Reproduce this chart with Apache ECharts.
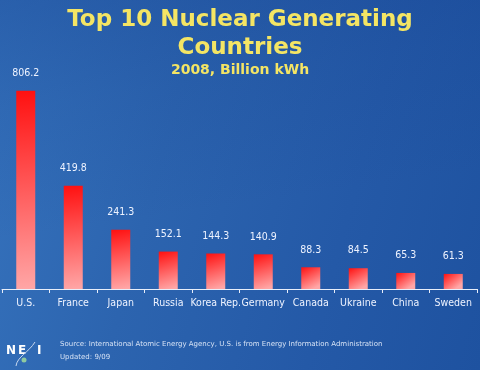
<!DOCTYPE html>
<html><head><meta charset="utf-8">
<script src="https://cdn.jsdelivr.net/npm/echarts@6/dist/echarts.min.js"></script>
<style>
html,body{margin:0;padding:0;}
#c{width:480px;height:370px;background:
 linear-gradient(172deg, rgba(18,60,140,0.35) 0%, rgba(18,60,140,0.15) 25%, rgba(18,60,140,0) 55%),
 linear-gradient(105deg, #3673bd 0%, #2c64af 35%, #2459a7 70%, #1e52a0 100%);}
</style></head>
<body><div id="c"></div>
<script>
var categories = ['U.S.','France','Japan','Russia','Korea Rep.','Germany','Canada','Ukraine','China','Sweden'];
var values = [806.2,419.8,241.3,152.1,144.3,140.9,88.3,84.5,65.3,61.3];
var titleLines = ['Top 10 Nuclear Generating','Countries'];
var subtitle = '2008, Billion kWh';
var sourceText = 'Source: International Atomic Energy Agency, U.S. is from Energy Information Administration';
var updatedText = 'Updated: 9/09';

var narrow = '"DejaVu Sans Condensed", "Liberation Sans Narrow", "Liberation Sans", sans-serif';
var chart = echarts.init(document.getElementById('c'), null, {renderer:'canvas'});
chart.setOption({
  backgroundColor: 'transparent',
  animation: false,
  title: [{
    text: titleLines.join('\n'),
    left: 'center', top: 1,
    textStyle: {color:'#f4e564', fontFamily:'DejaVu Sans', fontWeight:'bold', fontSize:23, lineHeight:28}
  },{
    text: subtitle,
    left: 'center', top: 58,
    textStyle: {color:'#f4e564', fontFamily:'DejaVu Sans', fontWeight:'bold', fontSize:14}
  }],
  grid: {left:2, right:3, top:43, bottom:81},
  xAxis: {
    type:'category', data: categories,
    axisLine: {lineStyle:{color:'#e8eefa', width:1}},
    axisTick: {show:true, length:4, lineStyle:{color:'#e8eefa'}},
    axisLabel: {color:'#eef3ff', fontFamily:narrow, fontSize:10.5, margin:9, interval:0}
  },
  yAxis: {type:'value', min:0, max:1000, show:false, splitLine:{show:false}},
  series: [{
    type:'bar', data: values, barWidth:19,
    itemStyle: {color: new echarts.graphic.LinearGradient(0,0,0.6,1,[
      {offset:0, color:'#ff1010'},{offset:1, color:'#ffa6a6'}])},
    label: {show:true, position:'top', distance:12, color:'#eef3ff', fontFamily:narrow, fontSize:10.5,
      formatter: function(p){return p.value.toFixed(1);}}
  }],
  graphic: [
    {type:'text', left:60, top:341, style:{text:sourceText, fill:'#d6e2f5', font:'7px "DejaVu Sans"'}},
    {type:'text', left:60, top:354, style:{text:updatedText, fill:'#d6e2f5', font:'7px "DejaVu Sans"'}},
    {type:'text', left:6, top:345, style:{text:'N', fill:'#ffffff', font:'bold 12px "DejaVu Sans"'}},
    {type:'text', left:18, top:345, style:{text:'E', fill:'#ffffff', font:'bold 12px "DejaVu Sans"'}},
    {type:'text', left:37, top:345, style:{text:'I', fill:'#ffffff', font:'bold 12px "DejaVu Sans"'}},
    {type:'bezierCurve', shape:{x1:16, y1:366, x2:35, y2:342, cpx1:17, cpy1:357, cpx2:29, cpy2:352}, style:{stroke:'#c8d8ee', lineWidth:1, fill:null}},
    {type:'circle', shape:{cx:24, cy:360, r:2.5}, style:{fill:'#8fcaa0'}}
  ]
});
</script></body></html>
